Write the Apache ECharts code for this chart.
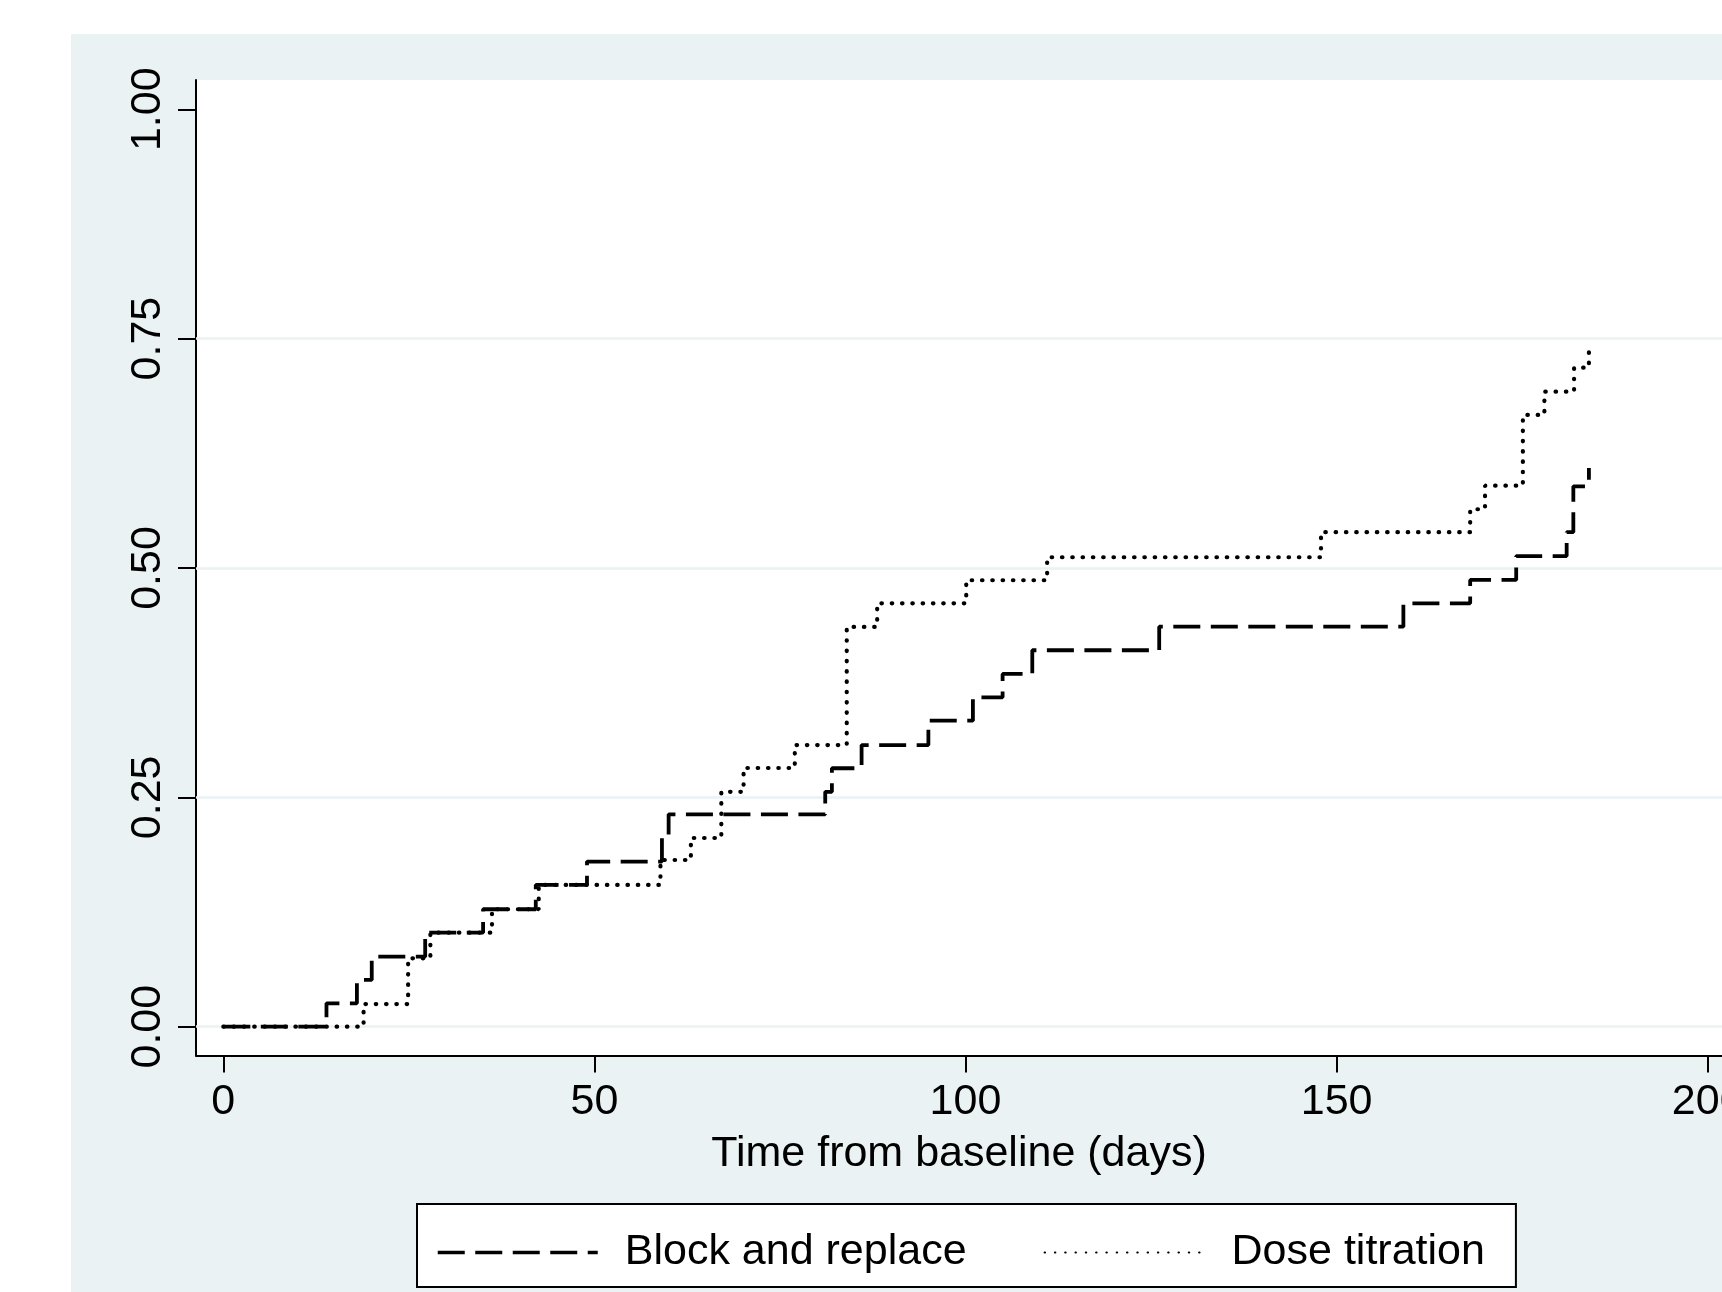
<!DOCTYPE html>
<html>
<head>
<meta charset="utf-8">
<script src="https://cdn.jsdelivr.net/npm/echarts@6/dist/echarts.min.js"></script>
<style>
html,body{margin:0;padding:0;background:#fff;}
#chart{width:1722px;height:1292px;}
</style>
</head>
<body>
<div id="chart"></div>
<script>
// Block and replace: event times (days) and cumulative failure
const brDays   = [0, 13.9, 18.0, 20.0, 27.2, 35.0, 42.1, 49.0, 59.1, 60.0, 81.1, 82.0, 86.0, 95.0, 101.0, 105.0, 109.0, 126.1, 159.0, 168.0, 174.2, 181.0, 181.9, 184.0];
const brValues = [0, 0.0255, 0.051, 0.0763, 0.1025, 0.128, 0.1545, 0.180, 0.2054, 0.2315, 0.256, 0.2817, 0.307, 0.3336, 0.359, 0.3845, 0.4103, 0.436, 0.4615, 0.487, 0.513, 0.539, 0.589, 0.609];
// Dose titration
const dtDays   = [0, 18.9, 24.9, 27.9, 36.2, 42.5, 58.9, 63.0, 67.1, 70.1, 77.0, 84.0, 88.1, 100.1, 111.0, 147.9, 168.0, 170.0, 175.1, 178.0, 182.0, 184.0];
const dtValues = [0, 0.0247, 0.0745, 0.1025, 0.128, 0.1545, 0.1817, 0.2057, 0.256, 0.282, 0.307, 0.4357, 0.4615, 0.4866, 0.5117, 0.539, 0.564, 0.5897, 0.6668, 0.6922, 0.7183, 0.7376];

const xTickValues = [0, 50, 100, 150, 200];
const yTickValues = [0, 0.25, 0.5, 0.75, 1];
const gridValues  = [0, 0.25, 0.5, 0.75];
const seriesNames = ['Block and replace', 'Dose titration'];

const FONT = 'Liberation Sans, Arial, Helvetica, sans-serif';
const chart = echarts.init(document.getElementById('chart'), null, {renderer: 'canvas'});

const option = {
  animation: false,
  backgroundColor: '#ffffff',
  graphic: [{
    type: 'rect', z: -100, silent: true,
    shape: {x: 71, y: 34, width: 1651, height: 1258},
    style: {fill: '#eaf2f3'}
  }],
  grid: {
    left: 196, top: 80, right: 0, bottom: 236.5,
    outerBoundsMode: 'none', containLabel: false,
    show: true, backgroundColor: '#ffffff', borderWidth: 0, borderColor: 'transparent'
  },
  legend: {
    data: [
      {name: seriesNames[0], lineStyle: {width: 3.5}},
      {name: seriesNames[1], lineStyle: {width: 2}}
    ],
    left: 417, top: 1204,
    orient: 'horizontal',
    itemWidth: 160, itemHeight: 30, itemGap: 77,
    padding: [27, 31, 13, 19],
    borderColor: '#000', borderWidth: 2, backgroundColor: '#ffffff',
    itemStyle: {opacity: 0},
    textStyle: {fontSize: 43, color: '#000', fontFamily: FONT, padding: [0, 0, 0, 22]}
  },
  xAxis: {
    type: 'value', min: -3.68, max: 201.93,
    name: 'Time from baseline (days)', nameLocation: 'middle', nameGap: 77,
    nameTextStyle: {fontSize: 43, color: '#000', fontFamily: FONT},
    axisLine: {show: true, onZero: false, lineStyle: {color: '#000', width: 2}},
    axisTick: {show: true, length: 17, customValues: xTickValues, lineStyle: {color: '#000', width: 2}},
    axisLabel: {customValues: xTickValues, margin: 25, fontSize: 43, color: '#000', fontFamily: FONT},
    splitLine: {show: false}
  },
  yAxis: {
    type: 'value', min: -0.0314, max: 1.0319,
    axisLine: {show: true, onZero: false, lineStyle: {color: '#000', width: 2}},
    axisTick: {show: true, length: 18, customValues: yTickValues, lineStyle: {color: '#000', width: 2}},
    axisLabel: {customValues: yTickValues, rotate: 90, margin: 26, fontSize: 43, color: '#000', fontFamily: FONT,
      formatter: v => Number(v).toFixed(2)},
    splitLine: {show: false}
  },
  series: [
    {
      type: 'line', z: 1, silent: true, symbol: 'none',
      data: [[0, 0]],
      lineStyle: {opacity: 0},
      markLine: {
        z: 1,
        silent: true, symbol: 'none', animation: false,
        label: {show: false},
        lineStyle: {color: '#eaf2f3', width: 2.5, type: 'solid'},
        emphasis: {disabled: true},
        data: gridValues.map(v => ({yAxis: v}))
      }
    },
    {
      name: seriesNames[0], type: 'line', step: 'end', symbol: 'none', z: 3,
      data: brDays.map((d, i) => [d, brValues[i]]),
      itemStyle: {color: '#000'},
      lineStyle: {color: '#000', width: 3.8, type: [27, 10.5], cap: 'butt'}
    },
    {
      name: seriesNames[1], type: 'line', step: 'end', symbol: 'none', z: 3,
      data: dtDays.map((d, i) => [d, dtValues[i]]),
      itemStyle: {color: '#000'},
      lineStyle: {color: '#000', width: 4.2, type: [0.5, 9.8], cap: 'round'}
    }
  ]
};
chart.setOption(option);
</script>
</body>
</html>
